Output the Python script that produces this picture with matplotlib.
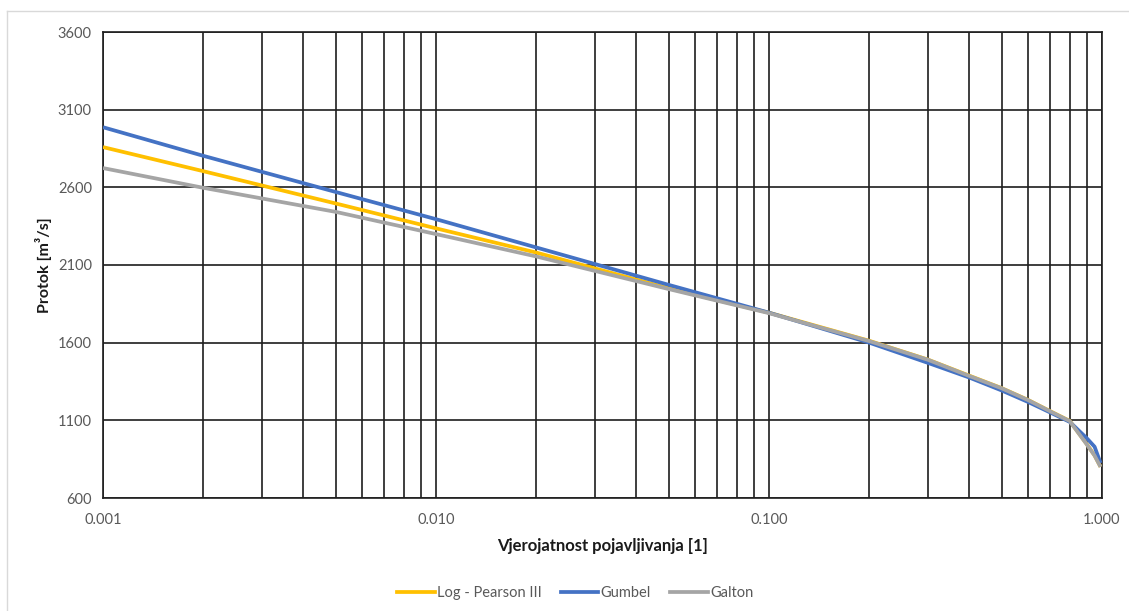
import matplotlib
matplotlib.use("Agg")
import matplotlib.pyplot as plt
from matplotlib.ticker import LogLocator, FixedLocator, FuncFormatter, NullFormatter
from matplotlib.lines import Line2D

plt.rcParams['font.family'] = ['Lato', 'DejaVu Sans']

# Probability of occurrence
p = [0.001, 0.002, 0.005, 0.01, 0.02, 0.05, 0.1, 0.2, 0.3, 0.4,
     0.5, 0.6, 0.7, 0.8, 0.9, 0.95, 0.99]

log_pearson = [2859, 2704, 2496, 2336, 2180, 1950, 1793, 1612, 1491, 1387,
               1307, 1231, 1158, 1096, 947, 874, 801]
gumbel = [2987, 2803, 2570, 2395, 2213, 1972, 1793, 1600, 1470, 1375,
          1292, 1218, 1150, 1090, 985, 930, 825]
galton = [2724, 2597, 2442, 2299, 2155, 1945, 1790, 1610, 1490, 1385,
          1306, 1230, 1157, 1095, 945, 873, 800]

series_names = ["Log - Pearson III", "Gumbel", "Galton"]
series_colors = ["#FFC000", "#4472C4", "#A5A5A5"]

y_ticks = [600, 1100, 1600, 2100, 2600, 3100, 3600]
x_major = [0.001, 0.01, 0.1, 1.0]

fig = plt.figure(figsize=(11.29, 6.11), dpi=100)
ax = fig.add_axes([103/1129, 1-498/611, (1102-103)/1129, (498-32)/611])

for vals, c in zip([log_pearson, gumbel, galton], series_colors):
    ax.plot(p, vals, color=c, lw=2.7, solid_capstyle='butt', zorder=3)

ax.set_xscale('log')
ax.set_xlim(0.001, 1.0)
ax.set_ylim(600, 3600)
ax.xaxis.set_major_locator(FixedLocator(x_major))
ax.xaxis.set_minor_locator(LogLocator(base=10, subs=range(2, 10)))
ax.xaxis.set_major_formatter(FuncFormatter(lambda v, _: f"{v:.3f}"))
ax.xaxis.set_minor_formatter(NullFormatter())
ax.yaxis.set_major_locator(FixedLocator(y_ticks))

gc = '#1e1e1e'
ax.grid(True, which='major', axis='both', color=gc, lw=1.2, zorder=1)
ax.grid(True, which='minor', axis='x', color=gc, lw=1.2, zorder=1)
ax.set_axisbelow(True)
for s in ax.spines.values():
    s.set_color(gc)
    s.set_linewidth(1.2)

ax.tick_params(which='both', length=0, labelsize=10.5, labelcolor='#595959', pad=8)
ax.tick_params(axis='x', pad=11)

ax.set_xlabel("Vjerojatnost pojavljivanja [1]", fontsize=12, fontweight='bold',
              color='#1a1a1a', labelpad=8)
ax.set_ylabel("Protok [m³/s]", fontsize=11.5, fontweight='bold',
              color='#1a1a1a', labelpad=4)

handles = [Line2D([0], [0], color=c, lw=2.7) for c in series_colors]
fig.legend(handles, series_names, loc='center', bbox_to_anchor=(575/1129, 1-593/611),
           ncol=3, frameon=False, fontsize=10.5, handlelength=2.6,
           handletextpad=0.15, columnspacing=1.3, labelcolor='#595959')

# outer chart-area border (top and left)
fig.add_artist(Line2D([7/1129, 1.0], [1-11/611, 1-11/611], color='#d9d9d9', lw=1))
fig.add_artist(Line2D([7/1129, 7/1129], [0, 1-11/611], color='#d9d9d9', lw=1))

fig.savefig("out.png", dpi=100, facecolor='white')
